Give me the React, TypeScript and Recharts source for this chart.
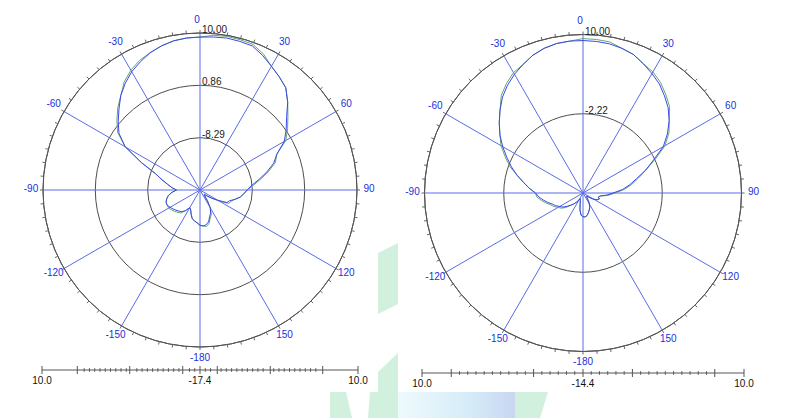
import React from 'react';
import {
  RadarChart,
  Radar,
  PolarGrid,
  PolarAngleAxis,
  PolarRadiusAxis,
  LineChart,
  XAxis,
} from 'recharts';

// ---------- data ----------
const angles = [
  -180, -175, -170, -165, -160, -155, -150, -145, -140, -135, -130, -125,
  -120, -115, -110, -105, -100, -95, -90, -85, -80, -75, -70, -65,
  -60, -55, -50, -45, -40, -35, -30, -25, -20, -15, -10, -5,
  0, 5, 10, 15, 20, 25, 30, 35, 40, 45, 50, 55,
  60, 65, 70, 75, 80, 85, 90, 95, 100, 105, 110, 115,
  120, 125, 130, 135, 140, 145, 150, 155, 160, 165, 170, 175,
];

const leftBlue = [
  -11.26, -11.67, -11.94, -12.22, -12.9, -13.59, -13.86, -13.04, -12.49, -12.22, -11.94, -11.67,
  -11.4, -11.12, -11.12, -11.4, -11.81, -12.49, -13.32, -12.49, -11.67, -10.57, -9.2, -6.18,
  -2.34, -0.15, 1.22, 2.59, 4.1, 5.34, 6.43, 7.26, 8.08, 8.63, 9.04, 9.23,
  9.29, 9.4, 9.53, 9.45, 9.34, 8.49, 7.53, 6.71, 5.89, 4.24, 2.32, 0.95,
  -0.42, -2.62, -3.72, -5.36, -7.01, -8.38, -9.2, -9.75, -10.3, -11.12, -11.94, -12.22,
  -13.86, -14.96, -15.78, -16.33, -16.33, -15.24, -13.86, -13.04, -12.49, -11.67, -11.26, -11.12,
];
const leftGreen = [
  -11.26, -11.67, -11.94, -12.22, -12.9, -13.59, -13.86, -13.04, -12.19, -11.92, -11.64, -11.37,
  -11.1, -11.12, -11.12, -11.4, -11.81, -12.49, -13.32, -12.49, -11.67, -10.57, -9.2, -6.18,
  -2.34, 0.15, 1.52, 2.89, 4.1, 5.64, 6.73, 7.56, 8.08, 8.63, 9.04, 9.23,
  9.29, 9.7, 9.83, 9.75, 9.64, 8.79, 7.53, 6.71, 5.89, 4.24, 2.62, 1.25,
  -0.12, -2.62, -3.42, -5.06, -6.71, -8.08, -9.2, -9.75, -10.3, -11.12, -11.64, -11.92,
  -13.56, -14.96, -15.78, -16.33, -16.33, -15.24, -13.86, -12.74, -12.19, -11.37, -10.96, -11.12,
];
const rightBlue = [
  -10.77, -11.02, -11.75, -12.73, -13.22, -13.46, -13.22, -12.73, -12.24, -11.75, -11.26, -10.65,
  -10.29, -9.8, -9.43, -8.82, -8.21, -7.6, -7.11, -6.13, -5.15, -3.93, -2.71, -1.49,
  -0.14, 1.2, 2.42, 3.65, 4.87, 5.85, 6.7, 7.43, 8.17, 8.66, 8.97, 9.07,
  9.07, 9.02, 8.92, 8.66, 8.29, 7.56, 6.82, 6.09, 5.11, 4.13, 2.91, 1.45,
  -0.14, -2.46, -4.17, -5.89, -7.11, -8.33, -9.8, -10.77, -11.75, -12.0, -11.75, -12.0,
  -12.49, -13.22, -13.71, -13.71, -13.46, -12.97, -12.49, -12.0, -11.63, -11.26, -10.9, -10.73,
];
const rightGreen = [
  -10.77, -11.02, -11.75, -12.73, -13.22, -13.46, -13.22, -12.73, -12.24, -11.75, -10.96, -10.35,
  -9.99, -9.5, -9.13, -8.52, -7.91, -7.3, -7.11, -6.13, -5.15, -3.93, -2.41, -1.19,
  0.16, 1.2, 2.42, 3.65, 5.17, 6.15, 7.0, 7.43, 8.17, 8.66, 8.97, 9.07,
  9.37, 9.32, 9.22, 8.66, 8.29, 7.56, 7.12, 6.39, 5.41, 4.43, 2.91, 1.75,
  0.16, -2.16, -4.17, -5.59, -6.81, -8.03, -9.5, -10.47, -11.75, -12.0, -11.75, -12.0,
  -12.49, -13.22, -13.71, -13.71, -13.46, -12.97, -12.49, -12.0, -11.63, -11.26, -10.9, -10.73,
];

const angleTicks = [-180, -150, -120, -90, -60, -30, 0, 30, 60, 90, 120, 150];
const leftRings = [-17.43, -8.29, 0.86, 10];
const rightRings = [-14.44, -2.22, 10];

const leftScaleMajor = [-27.43, -21.3, -12.2, -3.0, 0, 3.0, 12.2, 21.3, 27.43];
const rightScaleMajor = [-24.44, -20.0, -7.5, 0, 7.5, 20.0, 24.44];
const leftScaleMinorStep = 0.914;
const rightScaleMinorStep = 1.25;

// ---------- styling ----------
const FONT = '"Liberation Sans", Arial, sans-serif';
const BLUE_CURVE = '#3c48e8';
const GREEN_CURVE = '#62a874';
const SPOKE = '#5a6ce6';
const RING = '#4e4e4e';
const LABEL_BLUE = '#2030dc';

const minorAngleTicks: number[] = [];
for (let a = -180; a < 180; a += 5) minorAngleTicks.push(a);

const buildData = (blue: number[], green: number[]) =>
  angles.map((angle, i) => ({ angle, blue: blue[i], green: green[i] }));

const AngleTick = (props: any) => {
  const { x, y, payload } = props;
  const nudge = payload.value === 0 ? -3 : 0;
  return (
    <text
      x={x + nudge}
      y={y - 2}
      textAnchor="middle"
      dominantBaseline="central"
      fontSize={10}
      fontFamily={FONT}
      fill={LABEL_BLUE}
    >
      {payload.value}
    </text>
  );
};

const RingTick = (props: any) => {
  const { x, y, payload, min } = props;
  if (Math.abs(payload.value - min) < 1e-6) return <g />;
  return (
    <text
      x={x + 2}
      y={y}
      textAnchor="start"
      fontSize={10}
      fontFamily={FONT}
      fill="#1a1a1a"
    >
      {Number(payload.value).toFixed(2)}
    </text>
  );
};

function PolarPattern(props: {
  blue: number[];
  green: number[];
  rings: number[];
  cx: number;
  cy: number;
  r: number;
  left: number;
}) {
  const { blue, green, rings, cx, cy, r, left } = props;
  const min = rings[0];
  const max = rings[rings.length - 1];
  const data = buildData(blue, green);
  return (
    <div style={{ position: 'absolute', left, top: 0 }}>
      <RadarChart
        width={400}
        height={418}
        data={data}
        cx={cx}
        cy={cy}
        innerRadius={0}
        outerRadius={r}
        startAngle={-90}
        endAngle={-450}
        margin={{ top: 0, right: 0, bottom: 0, left: 0 }}
      >
        <PolarGrid gridType="circle" radialLines={false} stroke={RING} strokeWidth={1} />
        <PolarGrid gridType="circle" polarRadius={[]} stroke={SPOKE} strokeWidth={1} />
        <PolarAngleAxis
          angleAxisId={0}
          dataKey="angle"
          type="number"
          domain={[-180, 180]}
          ticks={angleTicks}
          axisLine={false}
          tickLine={false}
          tickSize={12}
          tick={<AngleTick />}
        />
        <PolarAngleAxis
          angleAxisId="minor"
          dataKey="angle"
          type="number"
          domain={[-180, 180]}
          ticks={minorAngleTicks}
          axisLineType="circle"
          axisLine={{ stroke: '#555' }}
          tickLine={{ stroke: '#666' }}
          orient="inner"
          tickSize={3}
          tick={false}
        />
        <PolarRadiusAxis
          angle={90}
          type="number"
          domain={[min, max]}
          ticks={rings}
          allowDataOverflow
          axisLine={false}
          tickLine={false}
          tick={<RingTick min={min} max={max} />}
        />
        <Radar
          dataKey="green"
          stroke={GREEN_CURVE}
          strokeWidth={1}
          fill="none"
          fillOpacity={0}
          dot={false}
          isAnimationActive={false}
        />
        <Radar
          dataKey="blue"
          stroke={BLUE_CURVE}
          strokeWidth={1}
          fill="none"
          fillOpacity={0}
          dot={false}
          isAnimationActive={false}
        />
      </RadarChart>
    </div>
  );
}

const ScaleTick = (props: any) => {
  const { x, y, payload, min, span, majors } = props;
  const v = payload.value;
  const isMajor = majors.some((m: number) => Math.abs(m - v) < 1e-6);
  const showLabel = Math.abs(v) < 1e-6 || Math.abs(Math.abs(v) - span) < 1e-6;
  const h = isMajor ? 4 : 1.8;
  return (
    <g>
      <line x1={x} x2={x} y1={y - h} y2={y + h} stroke="#555" strokeWidth={1} />
      {showLabel && (
        <text
          x={x}
          y={y + 14}
          textAnchor="middle"
          fontSize={10}
          fontFamily={FONT}
          fill="#111"
        >
          {(min + Math.abs(v)).toFixed(1)}
        </text>
      )}
    </g>
  );
};

function ScaleBar(props: {
  min: number;
  span: number;
  majors: number[];
  step: number;
  x0: number;
  x1: number;
  lineY: number;
}) {
  const { min, span, majors, step, x0, x1, lineY } = props;
  const innerMajor = Math.max(...majors.filter((m) => Math.abs(m) < span - 1e-6));
  const minors: number[] = [];
  for (let k = 1; k * step < innerMajor; k++) {
    for (const s of [-1, 1]) {
      const v = s * k * step;
      if (!majors.some((m) => Math.abs(m - v) < step * 0.4)) minors.push(v);
    }
  }
  const ticks = [...majors, ...minors].sort((a, b) => a - b);
  const pad = 15;
  const top = 10;
  return (
    <div style={{ position: 'absolute', left: x0 - pad, top: lineY - top }}>
      <LineChart
        width={x1 - x0 + 2 * pad}
        height={40}
        data={[{ d: -span }, { d: span }]}
        margin={{ top, right: pad, bottom: 0, left: pad }}
      >
        <XAxis
          dataKey="d"
          type="number"
          domain={[-span, span]}
          allowDataOverflow
          ticks={ticks}
          interval={0}
          height={30}
          axisLine={{ stroke: '#555' }}
          tickLine={false}
          tickSize={0}
          tickMargin={0}
          tick={<ScaleTick min={min} span={span} majors={majors} />}
        />
      </LineChart>
    </div>
  );
}

function Watermark() {
  return (
    <svg
      width={800}
      height={418}
      style={{ position: 'absolute', left: 0, top: 0 }}
    >
      <defs>
        <linearGradient id="wmBlue" x1="0" x2="1" y1="0" y2="0">
          <stop offset="0" stopColor="#eefafd" />
          <stop offset="0.6" stopColor="#d6ecf8" />
          <stop offset="1" stopColor="#c9d6f2" />
        </linearGradient>
      </defs>
      <g fill="#d2f0de">
        <polygon points="378,253 398,243 398,304 378,314" />
        <polygon points="378,372 398,353 398,418 368,418 370,392 378,392" />
        <polygon points="330,392 346,392 352,418 330,418" />
        <polygon points="515,392 548,392 540,418 515,418" />
      </g>
      <rect x={398} y={392} width={117} height={26} fill="url(#wmBlue)" />
    </svg>
  );
}

export default function App() {
  return (
    <div
      style={{
        position: 'absolute',
        left: 0,
        top: 0,
        width: 800,
        height: 418,
        background: '#ffffff',
        overflow: 'hidden',
        fontFamily: FONT,
      }}
    >
      <Watermark />
      <PolarPattern blue={leftBlue} green={leftGreen} rings={leftRings} cx={200} cy={190} r={157} left={0} />
      <PolarPattern blue={rightBlue} green={rightGreen} rings={rightRings} cx={183} cy={193} r={158.5} left={400} />
      <ScaleBar min={leftRings[0]} span={leftRings[3] - leftRings[0]} majors={leftScaleMajor} step={leftScaleMinorStep} x0={42} x1={358} lineY={370} />
      <ScaleBar min={rightRings[0]} span={rightRings[2] - rightRings[0]} majors={rightScaleMajor} step={rightScaleMinorStep} x0={422} x1={744} lineY={373} />
    </div>
  );
}
